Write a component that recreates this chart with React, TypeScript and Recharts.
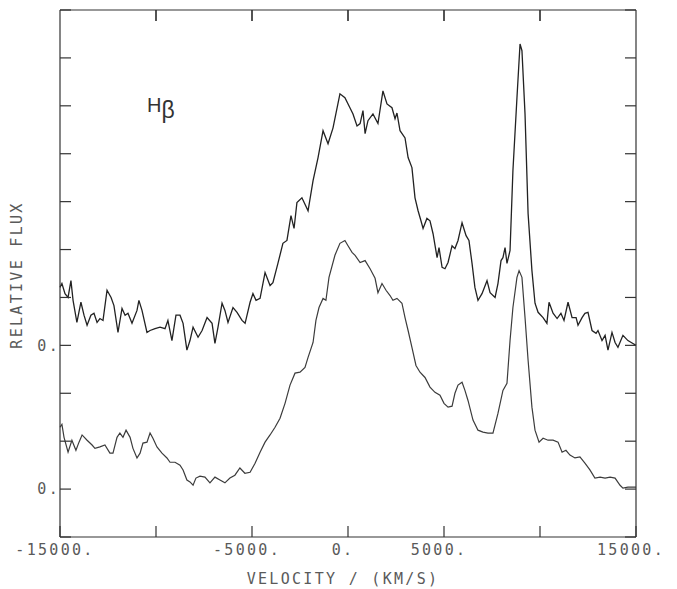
import React from 'react';
import { ComposedChart, Line, Scatter, XAxis, YAxis, ReferenceLine } from 'recharts';

// H-beta profiles, velocity in km/s, flux in relative units
const upperVelocity = [
  -15000, -14900, -14740, -14580, -14430, -14320, -14120, -13910, -13750, -13590,
  -13390, -13230, -13070, -12920, -12760, -12550, -12340, -12190, -11980, -11770,
  -11610, -11460, -11250, -10990, -10890, -10730, -10470, -10310, -10050, -9790,
  -9530, -9380, -9170, -8960, -8750, -8590, -8390, -8230, -8070, -7810,
  -7600, -7340, -7080, -6930, -6770, -6560, -6410, -6250, -5990, -5780,
  -5520, -5360, -5100, -4950, -4790, -4580, -4320, -4060, -3910, -3650,
  -3390, -3180, -2970, -2810, -2660, -2400, -2080, -1820, -1560, -1300,
  -1040, -780, -420, -160, 100, 260, 470, 630, 780, 890,
  1040, 1300, 1560, 1820, 2030, 2290, 2450, 2550, 2710, 2970,
  3130, 3330, 3490, 3650, 3800, 3910, 4110, 4270, 4430, 4640,
  4740, 4900, 5050, 5210, 5420, 5570, 5730, 5940, 6150, 6300,
  6460, 6610, 6770, 6980, 7240, 7400, 7660, 7810, 7970, 8070,
  8180, 8280, 8440, 8590, 8800, 8960, 9060, 9220, 9380, 9580,
  9740, 9900, 10160, 10360, 10470, 10680, 10890, 11090, 11250, 11460,
  11670, 11880, 11980, 12190, 12340, 12500, 12710, 12920, 13020, 13230,
  13390, 13540, 13750, 13910, 14060, 14320, 14580, 14840, 15000,
];

const upperFlux = [
  1.21, 1.29, 1.08, 1.0, 1.35, 0.94, 0.48, 0.9, 0.63, 0.42,
  0.63, 0.67, 0.48, 0.56, 0.52, 1.15, 1.0, 0.83, 0.27, 0.77,
  0.63, 0.67, 0.46, 0.73, 0.94, 0.73, 0.27, 0.31, 0.35, 0.38,
  0.35, 0.52, 0.1, 0.63, 0.63, 0.46, -0.1, 0.1, 0.38, 0.17,
  0.31, 0.58, 0.46, 0.04, 0.38, 0.88, 0.73, 0.48, 0.79, 0.69,
  0.52, 0.46, 0.9, 1.08, 0.94, 0.98, 1.52, 1.25, 1.31, 1.71,
  2.13, 2.19, 2.71, 2.44, 2.98, 3.08, 2.81, 3.44, 3.92, 4.48,
  4.21, 4.54, 5.25, 5.17, 4.96, 4.83, 4.58, 4.63, 4.9, 4.42,
  4.69, 4.83, 4.63, 5.31, 5.04, 4.96, 4.73, 4.85, 4.48, 4.33,
  3.92, 3.71, 3.08, 2.81, 2.6, 2.44, 2.65, 2.6, 2.33, 1.83,
  2.04, 1.63, 1.6, 1.73, 2.08, 2.02, 2.19, 2.56, 2.29, 2.19,
  1.71, 1.21, 0.94, 1.08, 1.35, 1.1, 1.0, 1.29, 1.77, 1.83,
  2.04, 1.71, 1.98, 3.65, 5.17, 6.29, 6.15, 4.83, 2.75, 1.56,
  0.88, 0.69, 0.58, 0.46, 0.9, 0.67, 0.56, 0.67, 0.52, 0.9,
  0.58, 0.58, 0.42, 0.58, 0.67, 0.69, 0.31, 0.25, 0.31, 0.1,
  0.21, -0.1, 0.27, 0.06, -0.04, 0.21, 0.1, 0.04, 0.0,
];

const lowerVelocity = [
  -15000, -14900, -14790, -14580, -14380, -14170, -14010, -13850, -13590, -13330,
  -13180, -12920, -12660, -12400, -12240, -12030, -11880, -11720, -11560, -11350,
  -11200, -10990, -10830, -10680, -10470, -10310, -10160, -9950, -9690, -9430,
  -9270, -9010, -8750, -8590, -8390, -8230, -8070, -7920, -7710, -7450,
  -7190, -6930, -6670, -6410, -6150, -5890, -5630, -5370, -5100, -4840,
  -4580, -4320, -4060, -3800, -3540, -3280, -3020, -2760, -2500, -2240,
  -2080, -1820, -1670, -1510, -1300, -1150, -990, -680, -420, -160,
  0, 210, 370, 630, 890, 1150, 1410, 1560, 1770, 1980,
  2190, 2340, 2550, 2810, 2970, 3130, 3330, 3540, 3750, 4010,
  4270, 4530, 4790, 5000, 5210, 5420, 5570, 5730, 5940, 6090,
  6250, 6510, 6770, 7030, 7290, 7550, 7810, 8070, 8280, 8440,
  8590, 8800, 8910, 9060, 9220, 9380, 9580, 9740, 9950, 10160,
  10420, 10680, 10940, 11150, 11350, 11560, 11820, 12080, 12340, 12600,
  12860, 13130, 13390, 13650, 13910, 14170, 14320, 14580, 15000,
];

const lowerFlux = [
  1.29, 1.35, 1.08, 0.77, 1.02, 0.81, 0.98, 1.13, 1.02, 0.92,
  0.85, 0.88, 0.92, 0.75, 0.75, 1.08, 1.17, 1.08, 1.23, 1.08,
  0.85, 0.65, 0.75, 0.96, 0.98, 1.17, 1.06, 0.88, 0.75, 0.65,
  0.56, 0.56, 0.5, 0.4, 0.19, 0.15, 0.08, 0.23, 0.27, 0.25,
  0.13, 0.25, 0.19, 0.13, 0.23, 0.29, 0.44, 0.33, 0.35, 0.54,
  0.77, 0.98, 1.13, 1.29, 1.48, 1.79, 2.17, 2.42, 2.44, 2.54,
  2.75, 3.06, 3.52, 3.79, 3.98, 3.94, 4.42, 4.88, 5.13, 5.19,
  5.08, 4.94, 4.88, 4.73, 4.77, 4.6, 4.4, 4.1, 4.29, 4.15,
  4.04, 3.94, 3.98, 3.88, 3.58, 3.31, 2.96, 2.58, 2.44, 2.33,
  2.13, 2.02, 1.96, 1.79, 1.71, 1.73, 2.0, 2.17, 2.23, 2.06,
  1.85, 1.44, 1.23, 1.19, 1.17, 1.17, 1.58, 2.06, 2.21, 3.1,
  3.79, 4.42, 4.56, 4.42, 3.58, 2.69, 1.71, 1.23, 0.98, 1.06,
  1.02, 1.02, 0.98, 0.77, 0.81, 0.71, 0.65, 0.67, 0.54, 0.4,
  0.23, 0.25, 0.23, 0.25, 0.23, 0.08, 0.02, 0.04, 0.04,
];

// upper spectrum is stacked 3 units above the lower one
const UPPER_SHIFT = 3;

const xTicks = [-15000, -10000, -5000, 0, 5000, 10000, 15000];
const xTopTicks = [-10000, -5000, 0, 5000, 10000];
const xLabelled = [-15000, -5000, 0, 5000, 15000];
const yTicks = [-1, 0, 1, 2, 3, 4, 5, 6, 7, 8, 9, 10];
const yZeroLevels = [0, UPPER_SHIFT];
const Y_TOP = 10;
// inward tick length along the top edge, in flux units
const TOP_TICK_LEN = 0.23;

const upperData = upperVelocity.map((v, i) => ({ v, flux: upperFlux[i] + UPPER_SHIFT }));
const lowerData = lowerVelocity.map((v, i) => ({ v, flux: lowerFlux[i] }));
const topTickData = xTopTicks.map((v) => ({ v, flux: Y_TOP }));

const INK = '#333';
const LABEL_INK = '#5a5a5a';
const TICK_PX = 11;
const plotterFont = {
  fill: LABEL_INK,
  fontSize: 15,
  fontFamily: '"DejaVu Sans Mono", monospace',
  letterSpacing: 2.3,
};

// right frame side carries tick marks only
const BlankTick = () => <g />;

// short inward stroke hanging from the top frame edge
const TopTickMark = (props: { cx?: number; cy?: number }) => {
  const { cx, cy } = props;
  if (cx == null || cy == null) return <g />;
  return <line x1={cx} y1={cy} x2={cx} y2={cy + TICK_PX} stroke={INK} strokeWidth={1.2} />;
};

const App: React.FC = () => {
  return (
    <div style={{ position: 'absolute', left: 0, top: 0, background: '#fff' }}>
      <ComposedChart width={677} height={589} margin={{ top: 0, right: 40, bottom: 22, left: 0 }}>
        <XAxis
          xAxisId="bottom"
          dataKey="v"
          type="number"
          domain={[-15000, 15000]}
          ticks={xTicks}
          interval={0}
          height={30}
          tickSize={-TICK_PX}
          tickMargin={18}
          stroke={INK}
          strokeWidth={1.2}
          tick={{ ...plotterFont, dx: -5 }}
          tickFormatter={(v: number) => (xLabelled.includes(v) ? `${v}.` : '')}
        />
        <XAxis
          xAxisId="top"
          dataKey="v"
          orientation="top"
          type="number"
          domain={[-15000, 15000]}
          ticks={xTopTicks}
          interval={0}
          height={10}
          tickLine={false}
          stroke={INK}
          strokeWidth={1.2}
          tick={BlankTick}
        />
        <YAxis
          yAxisId="left"
          type="number"
          domain={[-1, Y_TOP]}
          ticks={yTicks}
          interval={0}
          width={60}
          tickSize={-TICK_PX}
          tickMargin={11}
          stroke={INK}
          strokeWidth={1.2}
          tick={plotterFont}
          tickFormatter={(v: number) => (yZeroLevels.includes(v) ? '0.' : '')}
        />
        <YAxis
          yAxisId="right"
          orientation="right"
          type="number"
          domain={[-1, Y_TOP]}
          ticks={yTicks}
          interval={0}
          width={1}
          tickSize={-TICK_PX}
          stroke={INK}
          strokeWidth={1.2}
          tick={BlankTick}
        />
        {xTopTicks.map((v) => (
          <ReferenceLine
            key={v}
            xAxisId="bottom"
            yAxisId="left"
            ifOverflow="visible"
            segment={[
              { x: v, y: Y_TOP },
              { x: v, y: Y_TOP - TOP_TICK_LEN },
            ]}
            stroke={INK}
            strokeWidth={1.2}
          />
        ))}
        <Scatter
          xAxisId="bottom"
          yAxisId="left"
          data={topTickData}
          dataKey="flux"
          shape={TopTickMark}
          isAnimationActive={false}
        />
        <Line
          xAxisId="top"
          yAxisId="right"
          data={upperData}
          dataKey="flux"
          type="linear"
          stroke="#222"
          strokeWidth={1.3}
          dot={false}
          isAnimationActive={false}
        />
        <Line
          xAxisId="bottom"
          yAxisId="left"
          data={lowerData}
          dataKey="flux"
          type="linear"
          stroke="#3c3c3c"
          strokeWidth={1.2}
          dot={false}
          isAnimationActive={false}
        />
        <text x={147} y={112} fill="#333" fontSize={20} fontFamily='"Liberation Sans", Arial, sans-serif'>
          H
          <tspan dy={6} fontSize={23}>β</tspan>
        </text>
        <text x={343} y={584} textAnchor="middle" {...plotterFont}>
          VELOCITY / (KM/S)
        </text>
        <text
          x={17}
          y={275}
          textAnchor="middle"
          dominantBaseline="central"
          transform="rotate(-90 17 275)"
          {...plotterFont}
        >
          RELATIVE FLUX
        </text>
      </ComposedChart>
    </div>
  );
};

export default App;
